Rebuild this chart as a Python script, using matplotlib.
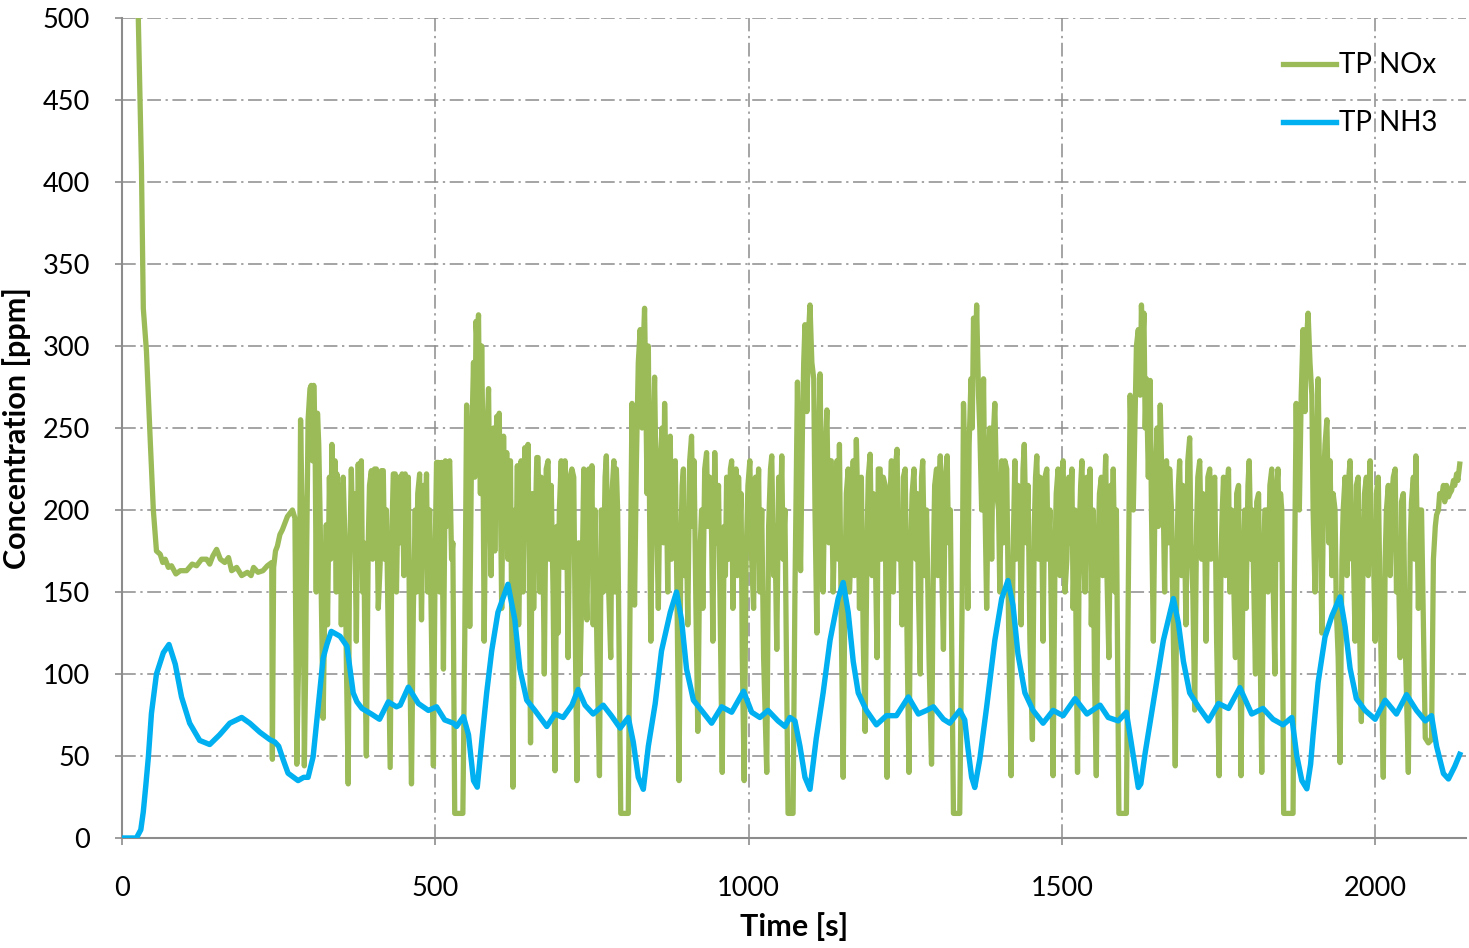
import matplotlib
matplotlib.use("Agg")
import matplotlib.pyplot as plt

# ---------------- data ----------------
nh3_t = [0, 10, 23, 30, 34, 38, 42, 47, 55, 66, 75, 85, 95, 108, 124, 140, 156, 172,
         191, 204, 220, 236, 244, 250, 257, 265, 281, 290, 297, 305, 313, 321, 327,
         334, 348, 359, 369, 375, 383, 398, 411, 425, 438, 444, 457, 473, 489, 502,
         515, 529, 534, 545, 553, 561, 567, 574, 582, 590, 600, 616, 627, 635, 646,
         659, 678, 691, 704, 718, 728, 739, 752, 768, 781, 795, 808, 816, 824, 832,
         840, 851, 861, 875, 885, 893, 901, 912, 925, 941, 957, 973, 992, 1005, 1018,
         1031, 1047, 1058, 1066, 1074, 1082, 1090, 1098, 1108, 1119, 1130, 1143, 1151,
         1159, 1167, 1175, 1188, 1204, 1220, 1236, 1255, 1271, 1284, 1295, 1311, 1321,
         1337, 1345, 1350, 1356, 1361, 1369, 1380, 1393, 1404, 1414, 1422, 1430, 1441,
         1454, 1470, 1486, 1502, 1521, 1540, 1561, 1574, 1590, 1603, 1614, 1622, 1626,
         1633, 1641, 1651, 1662, 1678, 1686, 1694, 1704, 1718, 1734, 1750, 1766, 1784,
         1803, 1821, 1837, 1853, 1867, 1875, 1883, 1891, 1897, 1901, 1909, 1920, 1931,
         1944, 1952, 1960, 1970, 1984, 2000, 2016, 2034, 2050, 2066, 2080, 2090, 2098,
         2109, 2117, 2127, 2135]
nh3_v = [0, 0, 0, 5, 16, 32, 49, 76, 100, 113, 118, 106, 86, 70, 59.5, 57, 63, 70,
         73.5, 70, 64.5, 60, 58.5, 56, 48, 39.5, 35, 37, 37, 49.5, 79.5, 109.6, 118,
         126, 123, 117, 88.5, 83, 79, 75.6, 72.4, 83, 80, 81, 92, 82, 77.8, 80,
         72, 70, 68, 74, 63, 35, 31, 58.5, 88.5, 114, 137.6, 154.7, 133, 103, 84,
         77.8, 68, 75.6, 73.5, 81, 90.6, 81, 75.6, 81, 74.6, 67, 73.5, 58.5, 37, 29.7,
         56, 82, 114, 137.6, 150, 133, 103, 84, 77.8, 70, 80, 76.7, 89.5, 76.7, 73.5,
         77.8, 71.4, 68, 73.5, 71.4, 56, 37, 29.7, 60.7, 88.5, 120.5, 146, 155.8,
         137.6, 107.7, 88.5, 77.8, 69, 74.6, 74.6, 86, 75.6, 77.8, 80, 72.4, 70,
         77.8, 72, 55, 37, 30.8, 48, 80, 120.5, 146, 157, 142, 112, 88.5,
         77.8, 70, 77.8, 74.6, 85, 75.6, 81, 73.5, 71.4, 76.7, 50, 30.8, 33,
         52, 71, 95, 120.5, 146, 131, 107.7, 88.5, 80, 71.4, 82, 79, 91.7,
         75.6, 79, 72.4, 69, 73.5, 50, 35, 30, 45, 63, 95, 122.6, 135.5,
         147, 129, 103.4, 85, 77.8, 72.4, 84, 75.6, 87.4, 77.8, 71.4, 74.6, 56,
         39.3, 36, 43.6, 51]

# NOx: start-up and plateau
nox_t_start = [18, 26, 31, 34, 39, 45, 50, 55, 61, 65, 69, 74, 79, 86, 93, 103, 112, 119,
               127, 135, 140, 145, 151, 157, 164, 170, 175, 183, 191, 200, 206, 210, 217,
               225, 232, 239]
nox_v_start = [560, 500, 410, 323, 297, 243, 200, 175, 173, 168, 170, 165, 166, 161, 163,
               163, 167, 166, 170, 170, 167, 172, 176, 170, 168, 171, 163, 165, 160, 162,
               160, 165, 162, 163, 166, 168]
# NOx: oscillating blocks, one list pair per regeneration cycle
nox_t_c1 = [240, 242, 245, 248, 252, 256, 260, 264, 268, 272, 276, 279, 281, 283, 285, 287,
            288, 290, 291, 293, 294, 297, 300, 302, 304, 306, 308, 310, 312, 314, 316, 318,
            321, 324, 326, 328, 331, 333, 335, 337, 340, 342, 343, 346, 348, 350, 353, 356,
            358, 361, 363, 366, 368, 370, 372, 374, 377, 379, 382, 384, 386, 388, 390, 393,
            395, 398, 400, 403, 406, 409, 412, 414, 417, 419, 422, 425, 428, 431, 433, 436,
            438, 441, 444, 447, 450, 452, 455, 457, 459, 462, 465, 468, 470, 472, 475, 478,
            481, 483, 486, 488, 491, 494, 497, 500, 502, 505, 507, 510, 513, 516, 518, 520,
            523, 526, 528]
nox_v_c1 = [48, 165, 175, 178, 185, 188, 192, 196, 198, 200, 195, 45, 90, 130, 255, 210,
            200, 120, 44, 100, 150, 255, 274, 276, 230, 276, 250, 150, 259, 240, 200, 150,
            73, 150, 191, 130, 220, 170, 240, 189, 230, 150, 222, 180, 215, 130, 220, 180,
            110, 33, 160, 225, 190, 210, 178, 120, 228, 190, 230, 150, 180, 100, 50, 180,
            215, 224, 170, 225, 225, 140, 167, 224, 224, 170, 200, 120, 43, 190, 222, 222,
            150, 220, 180, 222, 160, 222, 200, 220, 120, 33, 140, 200, 150, 210, 222, 133,
            215, 180, 222, 150, 200, 120, 44, 180, 229, 229, 150, 229, 103, 230, 190, 225,
            230, 170, 180]
nox_t_c2 = [531, 544, 547, 550, 553, 555, 558, 561, 563, 565, 567, 569, 570, 572, 574, 576,
            578, 581, 585, 587, 589, 591, 593, 595, 598, 600, 602, 604, 606, 609, 611, 614,
            616, 618, 620, 622, 624, 627, 629, 631, 633, 635, 637, 640, 643, 645, 648, 650,
            652, 655, 657, 659, 662, 664, 667, 669, 672, 674, 677, 680, 682, 685, 688, 691,
            694, 696, 698, 701, 704, 707, 710, 712, 715, 718, 721, 723, 726, 729, 731, 734,
            737, 739, 742, 745, 747, 750, 752, 755, 758, 762, 765, 768, 771, 773, 776, 780,
            782, 785, 787, 789, 791]
nox_v_c2 = [15, 15, 120, 264, 200, 129, 240, 290, 220, 315, 300, 319, 276, 210, 300, 240,
            120, 230, 274, 206, 160, 240, 250, 175, 257, 210, 259, 205, 140, 245, 190, 235,
            170, 225, 230, 130, 31, 200, 175, 227, 130, 170, 230, 150, 238, 185, 240, 160,
            58, 210, 140, 180, 232, 232, 150, 220, 170, 100, 225, 230, 170, 215, 150, 41,
            190, 125, 200, 230, 165, 230, 182, 110, 220, 225, 220, 140, 35, 180, 100, 150,
            225, 175, 133, 225, 170, 227, 130, 200, 115, 38, 200, 150, 220, 233, 160, 110,
            210, 230, 150, 225, 200]
nox_t_c3 = [796, 808, 811, 814, 816, 818, 821, 824, 827, 830, 832, 834, 836, 838, 840, 842,
            844, 847, 850, 853, 856, 859, 862, 864, 866, 869, 871, 873, 875, 877, 880, 883,
            886, 889, 892, 894, 896, 898, 901, 903, 906, 909, 911, 913, 916, 919, 922, 925,
            927, 930, 933, 935, 938, 941, 943, 946, 949, 952, 955, 958, 961, 963, 965, 968,
            971, 973, 975, 977, 980, 982, 984, 986, 988, 990, 993, 996, 999, 1002, 1005,
            1008, 1011, 1013, 1016, 1018, 1021, 1024, 1029, 1032, 1035, 1037, 1040, 1042,
            1045, 1048, 1050, 1053, 1055, 1058]
nox_v_c3 = [15, 15, 150, 265, 200, 142, 230, 290, 310, 250, 300, 323, 270, 210, 300, 200,
            120, 230, 281, 200, 140, 230, 250, 180, 265, 208, 150, 230, 245, 170, 225, 230,
            140, 35, 180, 215, 225, 160, 180, 130, 230, 245, 190, 230, 140, 65, 170, 200,
            140, 225, 235, 190, 220, 185, 120, 235, 180, 215, 130, 40, 190, 160, 220, 170,
            225, 230, 140, 185, 225, 160, 220, 190, 210, 110, 35, 170, 215, 230, 170,
            140, 220, 180, 225, 150, 200, 110, 40, 190, 225, 233, 160, 190,
            115, 220, 180, 233, 170, 200]
nox_t_c4 = [1063, 1071, 1074, 1078, 1080, 1083, 1086, 1088, 1090, 1093, 1096, 1098, 1101,
            1104, 1106, 1109, 1112, 1114, 1117, 1119, 1122, 1125, 1128, 1130, 1132, 1135,
            1138, 1141, 1143, 1145, 1148, 1151, 1154, 1156, 1159, 1161, 1164, 1167, 1169,
            1172, 1175, 1177, 1180, 1183, 1186, 1189, 1191, 1194, 1197, 1199, 1202, 1205,
            1207, 1210, 1212, 1215, 1218, 1221, 1224, 1226, 1228, 1231, 1234, 1237, 1239,
            1242, 1245, 1247, 1250, 1253, 1256, 1259, 1261, 1264, 1267, 1269, 1271, 1274,
            1276, 1278, 1281, 1284, 1288, 1292, 1295, 1297, 1300, 1302, 1304, 1306, 1308,
            1311, 1314, 1317, 1319, 1322]
nox_v_c4 = [15, 15, 150, 278, 210, 163, 250, 290, 313, 260, 310, 325, 290,
            280, 200, 125, 240, 283, 200, 150, 230, 261, 180, 230, 230, 150,
            200, 230, 170, 240, 130, 37, 160, 210, 225, 150, 180, 230, 160,
            243, 190, 140, 220, 120, 65, 180, 220, 234, 160, 210, 180, 110,
            225, 225, 170, 220, 215, 37, 170, 210, 230, 150, 225, 237, 170,
            190, 130, 220, 225, 120, 40, 180, 210, 225, 170, 210, 150, 100,
            220, 230, 160, 200, 110, 45, 170, 215, 225, 160, 210, 233, 170,
            115, 220, 233, 180, 200]
nox_t_c5 = [1327, 1337, 1341, 1343, 1346, 1348, 1350, 1352, 1355, 1357, 1359, 1362, 1364,
            1367, 1369, 1372, 1375, 1377, 1380, 1383, 1385, 1388, 1390, 1393, 1396, 1399,
            1401, 1404, 1407, 1409, 1412, 1415, 1419, 1422, 1425, 1427, 1430, 1433, 1435,
            1438, 1440, 1443, 1446, 1449, 1453, 1456, 1458, 1460, 1463, 1465, 1468, 1470,
            1473, 1476, 1478, 1481, 1484, 1486, 1489, 1491, 1494, 1497, 1499, 1502, 1505,
            1508, 1511, 1513, 1516, 1518, 1521, 1523, 1525, 1528, 1530, 1532, 1535, 1537,
            1540, 1542, 1545, 1547, 1550, 1552, 1555, 1558, 1560, 1563, 1565, 1568, 1570,
            1572, 1575, 1578, 1580, 1582, 1585, 1587]
nox_v_c5 = [15, 15, 150, 265, 220, 200, 140, 240, 280, 250, 317, 290, 325,
            270, 250, 200, 280, 210, 140, 230, 250, 170, 240, 265, 210, 200,
            150, 230, 180, 230, 225, 130, 38, 170, 230, 170, 215, 200, 130,
            225, 240, 180, 215, 120, 60, 190, 220, 233, 170, 220, 185, 120,
            220, 225, 170, 200, 110, 38, 170, 210, 225, 160, 215, 230, 150,
            170, 220, 180, 225, 140, 200, 110, 40, 190, 215, 230, 170, 150,
            220, 170, 225, 130, 200, 100, 38, 180, 210, 220, 160, 210, 233,
            160, 110, 215, 180, 225, 150, 200]
nox_t_c6 = [1591, 1603, 1606, 1609, 1612, 1614, 1617, 1619, 1622, 1625, 1627, 1629, 1631,
            1633, 1635, 1638, 1641, 1643, 1646, 1649, 1652, 1654, 1657, 1659, 1662, 1664,
            1667, 1670, 1672, 1675, 1678, 1681, 1684, 1686, 1688, 1691, 1693, 1696, 1698,
            1701, 1704, 1706, 1709, 1712, 1715, 1717, 1720, 1723, 1725, 1728, 1730, 1733,
            1736, 1738, 1741, 1744, 1747, 1751, 1754, 1756, 1758, 1761, 1763, 1766, 1768,
            1771, 1774, 1777, 1779, 1782, 1786, 1789, 1792, 1794, 1797, 1799, 1802, 1804,
            1806, 1809, 1811, 1814, 1816, 1819, 1822, 1824, 1827, 1829, 1832, 1835, 1837,
            1840, 1842, 1845, 1847, 1849, 1851]
nox_v_c6 = [15, 15, 150, 270, 220, 200, 260, 300, 310, 270, 325, 300, 320,
            250, 280, 220, 279, 200, 120, 220, 250, 190, 264, 230, 200, 150,
            230, 180, 225, 200, 120, 44, 180, 215, 230, 160, 215, 180, 130,
            230, 244, 180, 150, 78, 190, 220, 230, 170, 210, 187, 120, 220,
            225, 170, 215, 220, 120, 38, 170, 200, 220, 160, 210, 225, 150,
            200, 160, 110, 210, 215, 38, 160, 200, 140, 215, 230, 170, 200,
            160, 100, 205, 210, 130, 40, 170, 200, 200, 150, 215, 225, 160,
            100, 210, 225, 170, 210, 200]
nox_t_c7 = [1854, 1869, 1871, 1874, 1876, 1879, 1882, 1885, 1888, 1890, 1893, 1896, 1899,
            1901, 1904, 1907, 1909, 1912, 1915, 1918, 1920, 1923, 1926, 1928, 1931, 1933,
            1936, 1938, 1941, 1944, 1947, 1949, 1952, 1955, 1957, 1960, 1963, 1965, 1968,
            1970, 1973, 1975, 1978, 1981, 1983, 1986, 1989, 1992, 1994, 1997, 2000, 2002,
            2005, 2008, 2013, 2016, 2018, 2021, 2024, 2027, 2029, 2032, 2034, 2037, 2040,
            2042, 2045, 2048, 2053, 2056, 2058, 2061, 2063, 2065, 2067, 2069, 2072, 2074,
            2077, 2080, 2085, 2090, 2093, 2096, 2098, 2101, 2103, 2106, 2109, 2111, 2114,
            2117, 2119, 2122, 2125, 2127, 2130, 2132, 2135]
nox_v_c7 = [15, 15, 150, 265, 210, 200, 270, 310, 260, 300, 320, 290, 270,
            200, 150, 240, 280, 200, 125, 220, 240, 255, 180, 230, 160, 210,
            200, 140, 110, 46, 170, 200, 220, 160, 215, 230, 170, 180, 120,
            215, 220, 130, 71, 180, 210, 220, 160, 230, 170, 180, 120, 210,
            220, 140, 37, 170, 200, 215, 160, 210, 220, 225, 150, 170, 110,
            205, 210, 120, 40, 180, 205, 220, 170, 233, 190, 140, 200, 200,
            130, 61, 58, 60, 170, 190, 197, 200, 210, 208, 215, 205, 215,
            208, 210, 212, 218, 215, 222, 218, 228]

nox_t = (nox_t_start + nox_t_c1 + nox_t_c2 + nox_t_c3 + nox_t_c4 + nox_t_c5
         + nox_t_c6 + nox_t_c7)
nox_v = (nox_v_start + nox_v_c1 + nox_v_c2 + nox_v_c3 + nox_v_c4 + nox_v_c5
         + nox_v_c6 + nox_v_c7)

x_ticks = [0, 500, 1000, 1500, 2000]
y_ticks = list(range(0, 501, 50))

# ---------------- styling ----------------
FONT = ["Lato", "DejaVu Sans"]
plt.rcParams["font.family"] = FONT
GREEN = "#9BBB59"
BLUE = "#00B0F0"
GRID = "#8C8C8C"
TXT = "#000000"
FS = 19.5

fig = plt.figure(figsize=(14.69, 9.48), dpi=100)
ax = fig.add_axes([122 / 1469, 1 - 838 / 948, (1466 - 122) / 1469, (838 - 18) / 948])

ax.plot(nox_t, nox_v, color=GREEN, lw=3.8, label="TP NOx", zorder=3,
        solid_joinstyle="round")
ax.plot(nh3_t, nh3_v, color=BLUE, lw=3.9, label="TP NH3", zorder=4,
        solid_joinstyle="round")

ax.set_xlim(0, 2145)
ax.set_ylim(0, 500)
ax.set_xticks(x_ticks)
ax.set_yticks(y_ticks)
ax.grid(True, color=GRID, linestyle=(0, (9, 3, 1.5, 3)), linewidth=1.1, zorder=1)

for s in ["top", "right"]:
    ax.spines[s].set_visible(False)
for s in ["left", "bottom"]:
    ax.spines[s].set_color(GRID)
    ax.spines[s].set_linewidth(1.5)

ax.tick_params(axis="y", direction="out", length=5, width=1.2, color=GRID,
               labelsize=FS, pad=18, labelcolor=TXT)
ax.tick_params(axis="x", direction="out", length=5, width=1.2, color=GRID,
               labelsize=FS, pad=22, labelcolor=TXT)

ax.text(0.5, (838 - 927) / 820, "Time [s]", transform=ax.transAxes, ha="center",
        va="center", fontsize=22, fontweight="bold", color=TXT)
ax.text((17 - 122) / 1344, 0.5, "Concentration [ppm]", transform=ax.transAxes,
        ha="center", va="center", rotation=90, fontsize=22, fontweight="bold", color=TXT)

leg = ax.legend(loc="upper right", bbox_to_anchor=(0.979, 0.958), frameon=False,
                fontsize=20, handlelength=1.9, handletextpad=0.12, labelspacing=1.15,
                borderpad=0, borderaxespad=0)
for t in leg.get_texts():
    t.set_color(TXT)

fig.savefig("out.png", dpi=100)
